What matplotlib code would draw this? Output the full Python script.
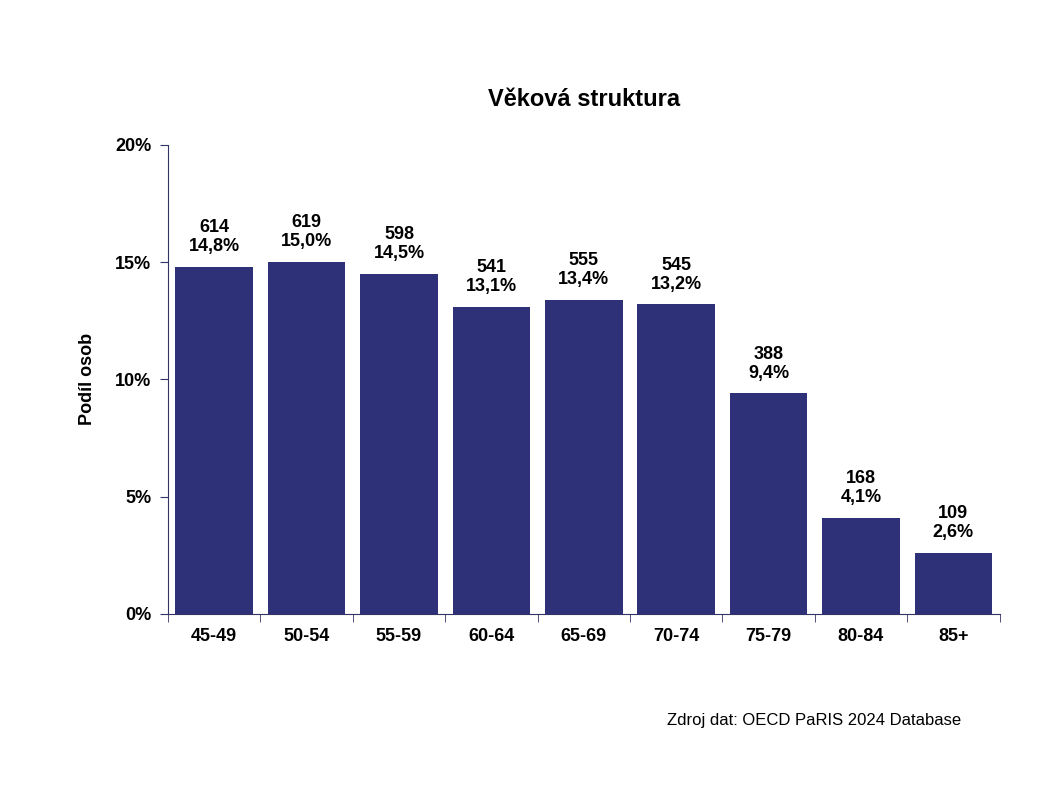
import matplotlib.pyplot as plt
import numpy as np

plt.rcParams['font.family'] = ['Liberation Sans', 'DejaVu Sans']

# data
categories = ['45-49', '50-54', '55-59', '60-64', '65-69', '70-74', '75-79', '80-84', '85+']
counts = [614, 619, 598, 541, 555, 545, 388, 168, 109]
shares = [14.8, 15.0, 14.5, 13.1, 13.4, 13.2, 9.4, 4.1, 2.6]

fig = plt.figure(figsize=(10.5, 8), dpi=100)
ax = fig.add_axes([0.16, 0.2325, 0.792, 0.5865])

x = np.arange(len(categories))
ax.bar(x, shares, width=0.84, color='#2E3078')

for xi, c, s in zip(x, counts, shares):
    ax.text(xi, s + 0.5, f'{c}\n{s:.1f}%'.replace('.', ','), ha='center', va='bottom',
            fontsize=13, fontweight='bold', linespacing=1.15)

ax.set_xlim(-0.5, len(categories) - 0.5)
ax.set_ylim(0, 20)
ax.set_yticks([0, 5, 10, 15, 20])
ax.set_yticklabels([f'{v}%' for v in [0, 5, 10, 15, 20]], fontsize=13, fontweight='bold')
ax.set_xticks(x)
ax.set_xticklabels(categories, fontsize=13, fontweight='bold')
ax.set_xticks(np.arange(-0.5, len(categories), 1), minor=True)
ax.tick_params(axis='x', which='major', length=0, pad=10)
ax.tick_params(axis='x', which='minor', length=6, direction='out', color='#333366')
ax.tick_params(axis='y', length=6, direction='out', color='#333366', pad=6)

for side in ['top', 'right']:
    ax.spines[side].set_visible(False)
for side in ['left', 'bottom']:
    ax.spines[side].set_color('#333366')

ax.set_ylabel('Podíl osob', fontsize=13, fontweight='bold', labelpad=14)
ax.set_title('Věková struktura', fontsize=17, fontweight='bold', pad=28)

fig.text(0.915, 0.1, 'Zdroj dat: OECD PaRIS 2024 Database', ha='right', va='center', fontsize=12)

fig.savefig('out.png', dpi=100, facecolor='white')
